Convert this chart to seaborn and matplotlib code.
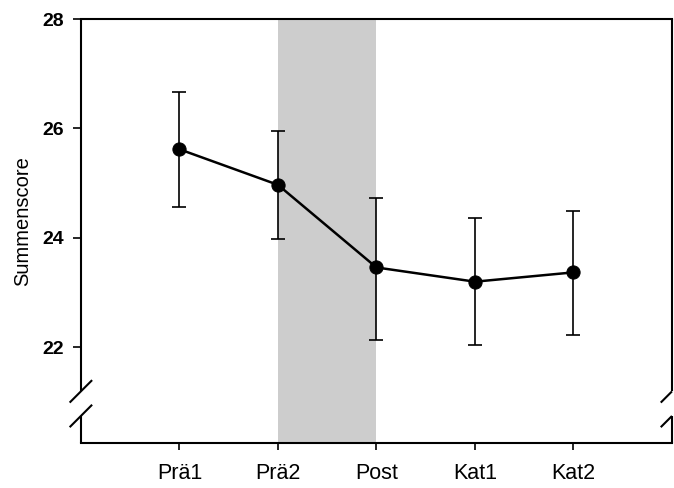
import matplotlib
matplotlib.use("Agg")
import matplotlib.pyplot as plt
import seaborn as sns
import pandas as pd

# Measurement occasions and summary statistics
occasions = ["Prä1", "Prä2", "Post", "Kat1", "Kat2"]
means = [25.62, 24.97, 23.46, 23.20, 23.37]
err_low = [1.05, 0.99, 1.32, 1.15, 1.14]
err_high = [1.05, 0.99, 1.27, 1.16, 1.13]
yticks = [22, 24, 26, 28]

sns.set_theme(style="white")
plt.rcParams["font.family"] = ["Liberation Sans", "DejaVu Sans"]

df = pd.DataFrame({"pos": range(len(occasions)), "occasion": occasions, "mean": means})

fig = plt.figure(figsize=(6.74, 4.88), dpi=100)
ax = fig.add_axes([0.120, 0.092, 0.877, 0.869])

# Shaded intervention phase between Prä2 and Post
ax.axvspan(1, 2, color="#cdcdcd", lw=0, zorder=0)

ax.errorbar(df["pos"], df["mean"], yerr=[err_low, err_high], fmt="none",
            ecolor="black", elinewidth=1.2, capsize=5, capthick=1.2, zorder=2)
sns.lineplot(data=df, x="pos", y="mean", ax=ax, color="black", linewidth=1.8,
             marker="o", markersize=9.5, markeredgecolor="black", zorder=3)

ax.set_xlim(-1, 5)
ax.set_ylim(20.25, 28)
ax.set_xticks(range(len(occasions)))
ax.set_xticklabels(occasions, fontsize=15.5, color="black")
ax.set_yticks(yticks)
ax.set_yticklabels([str(t) for t in yticks], fontsize=14, fontweight="bold", color="black")
ax.set_xlabel("")
ax.set_ylabel("Summenscore", fontsize=14.5, color="black")
ax.yaxis.set_label_coords(-0.083, 0.524)
ax.tick_params(axis="x", direction="out", length=5, width=1.2, pad=9, bottom=True, colors="black")
ax.tick_params(axis="y", direction="out", length=6, width=1.2, pad=6, left=True, colors="black")

for side in ["top", "bottom"]:
    ax.spines[side].set_color("black")
    ax.spines[side].set_linewidth(1.5)
ax.spines["left"].set_visible(False)
ax.spines["right"].set_visible(False)

# Vertical axes with a break near the bottom
gap_lo, gap_hi = 0.064, 0.122
kw = dict(transform=ax.transAxes, color="black", lw=1.5, clip_on=False,
          solid_capstyle="butt")
for x in (0, 1):
    ax.plot([x, x], [0, gap_lo], **kw)
    ax.plot([x, x], [gap_hi, 1], **kw)

dx = 0.019
dy = dx * 591 / 424
# left break marks cross the axis
ax.plot([-dx, dx], [gap_hi - dy, gap_hi + dy], **kw)
ax.plot([-dx, dx], [gap_lo - dy, gap_lo + dy], **kw)
# right break marks end at the axis
ax.plot([1 - dx, 1], [gap_hi - dy, gap_hi], **kw)
ax.plot([1 - dx, 1], [gap_lo - dy, gap_lo], **kw)

fig.savefig("out.png", dpi=100)
